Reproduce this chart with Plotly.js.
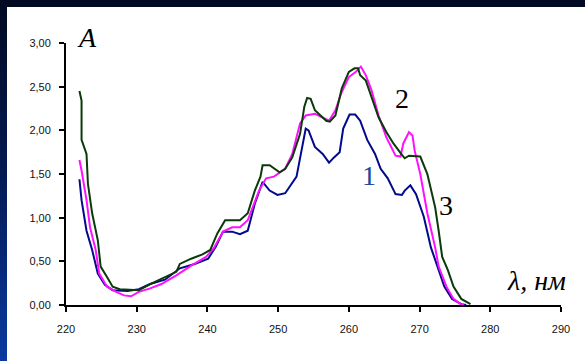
<!DOCTYPE html>
<html>
<head>
<meta charset="utf-8">
<script src="https://cdn.plot.ly/plotly-3.0.1.min.js"></script>
<style>
  html, body { margin:0; padding:0; width:585px; height:361px; overflow:hidden;
    background: linear-gradient(to bottom, #010a22 0%, #03194f 45%, #0a3aa0 100%); }
  #chart { position:absolute; left:7px; top:7px; width:578px; height:354px; background:#fff; }
</style>
</head>
<body>
<div id="chart"></div>
<script>
// Curve 1 (blue)
const x1 = [221.9,222.2,222.9,223.7,224.5,225.5,226.6,228.7,230.3,231.9,234.0,236.1,238.2,240.1,241.2,242.2,243.5,244.6,245.7,246.7,247.8,248.8,249.9,251.0,252.6,253.4,253.9,254.3,255.2,256.3,257.2,257.9,258.7,259.2,260.1,260.9,261.6,262.6,263.7,264.5,265.5,266.6,267.5,267.9,268.7,269.5,270.6,271.6,272.7,273.5,274.6,275.9,276.6];
const y1 = [1.44,1.20,0.85,0.63,0.36,0.23,0.17,0.16,0.18,0.24,0.29,0.42,0.47,0.53,0.67,0.84,0.84,0.81,0.85,1.16,1.41,1.31,1.26,1.28,1.47,1.81,2.02,2.00,1.81,1.73,1.63,1.69,1.75,2.02,2.18,2.18,2.11,1.89,1.73,1.56,1.45,1.27,1.26,1.31,1.37,1.27,1.01,0.66,0.40,0.21,0.07,0.01,0.00];
// Curve 2 (magenta)
const x2 = [221.9,222.2,222.9,223.4,224.2,224.7,225.8,227.1,228.2,229.2,230.3,231.9,233.5,235.6,237.7,239.8,240.9,242.2,243.5,244.6,245.7,247.3,248.3,249.4,251.0,252.0,253.1,253.9,255.2,256.3,257.2,258.1,258.9,260.0,261.0,261.7,262.4,263.2,264.2,265.3,266.6,267.3,267.7,268.5,269.0,269.3,270.1,271.1,272.2,272.7,273.8,274.8,275.8,276.3];
const y2 = [1.66,1.54,1.20,0.89,0.63,0.36,0.21,0.15,0.11,0.10,0.15,0.19,0.24,0.34,0.45,0.55,0.65,0.84,0.89,0.89,0.97,1.31,1.45,1.47,1.56,1.73,2.08,2.17,2.19,2.15,2.11,2.23,2.42,2.61,2.67,2.73,2.63,2.46,2.17,1.92,1.71,1.70,1.85,1.98,1.94,1.77,1.50,1.05,0.66,0.44,0.21,0.07,0.01,0.00];
// Curve 3 (green)
const x3 = [221.9,222.2,222.2,222.9,223.1,223.7,224.5,224.9,225.8,226.6,227.6,230.3,231.9,233.5,235.6,236.1,237.7,239.3,240.4,241.4,242.5,244.6,245.7,246.7,247.5,247.8,248.8,250.2,251.0,252.0,253.1,253.7,254.1,254.6,255.2,256.8,257.3,258.1,259.0,260.0,260.8,261.3,261.6,262.4,263.2,264.2,265.3,266.3,267.4,267.9,268.5,270.1,271.1,272.2,272.7,273.2,274.0,274.8,275.9,277.2];
const y3 = [2.45,2.34,1.89,1.73,1.39,1.05,0.74,0.44,0.32,0.21,0.18,0.17,0.24,0.30,0.38,0.47,0.53,0.58,0.63,0.82,0.97,0.97,1.05,1.31,1.47,1.60,1.60,1.52,1.56,1.69,1.96,2.27,2.37,2.36,2.23,2.11,2.10,2.17,2.48,2.67,2.71,2.71,2.63,2.57,2.38,2.15,1.98,1.85,1.73,1.68,1.71,1.70,1.50,1.12,0.85,0.55,0.40,0.21,0.07,0.01];

const xTicks = [220,230,240,250,260,270,280,290];
const yTicks = [0,0.5,1,1.5,2,2.5,3];

const traces = [
  {x:x1, y:y1, mode:'lines', line:{color:'#000a8a', width:2}},
  {x:x2, y:y2, mode:'lines', line:{color:'#ff10ff', width:2}},
  {x:x3, y:y3, mode:'lines', line:{color:'#0a3a0a', width:2}}
];

const serif = 'Liberation Serif, Times New Roman, serif';
const layout = {
  width:578, height:354,
  margin:{l:59, r:24, t:36, b:56},
  paper_bgcolor:'#ffffff', plot_bgcolor:'#ffffff',
  showlegend:false,
  separators:',.',
  font:{family:'Liberation Sans, Arial, sans-serif', size:11, color:'#111'},
  xaxis:{range:[220,290], tickvals:xTicks, ticks:'outside', ticklen:5, tickwidth:2, tickcolor:'#000',
    showline:true, linewidth:2, linecolor:'#000', showgrid:false, zeroline:false, ticklabelstandoff:8},
  yaxis:{range:[0,3], tickvals:yTicks, tickformat:'.2f', ticks:'outside', ticklen:5, tickwidth:2, tickcolor:'#000',
    showline:true, linewidth:2, linecolor:'#000', showgrid:false, zeroline:false, ticklabelstandoff:6},
  annotations:[
    {x:0.042, y:1.02, xref:'paper', yref:'paper', xanchor:'center', yanchor:'middle', text:'<i>A</i>', showarrow:false, font:{family:serif, size:28, color:'#000'}},
    {x:267.5, y:2.37, xref:'x', yref:'y', xanchor:'center', yanchor:'middle', text:'2', showarrow:false, font:{family:serif, size:28, color:'#000'}},
    {x:262.86, y:1.48, xref:'x', yref:'y', xanchor:'center', yanchor:'middle', text:'1', showarrow:false, font:{family:serif, size:28, color:'#1a4a9a'}},
    {x:273.75, y:1.145, xref:'x', yref:'y', xanchor:'center', yanchor:'middle', text:'3', showarrow:false, font:{family:serif, size:28, color:'#000'}},
    {x:286.5, y:0.275, xref:'x', yref:'y', xanchor:'center', yanchor:'middle', text:'<i>λ, нм</i>', showarrow:false, font:{family:serif, size:28, color:'#000'}}
  ]
};
Plotly.newPlot('chart', traces, layout, {displayModeBar:false, staticPlot:true});
</script>
</body>
</html>
